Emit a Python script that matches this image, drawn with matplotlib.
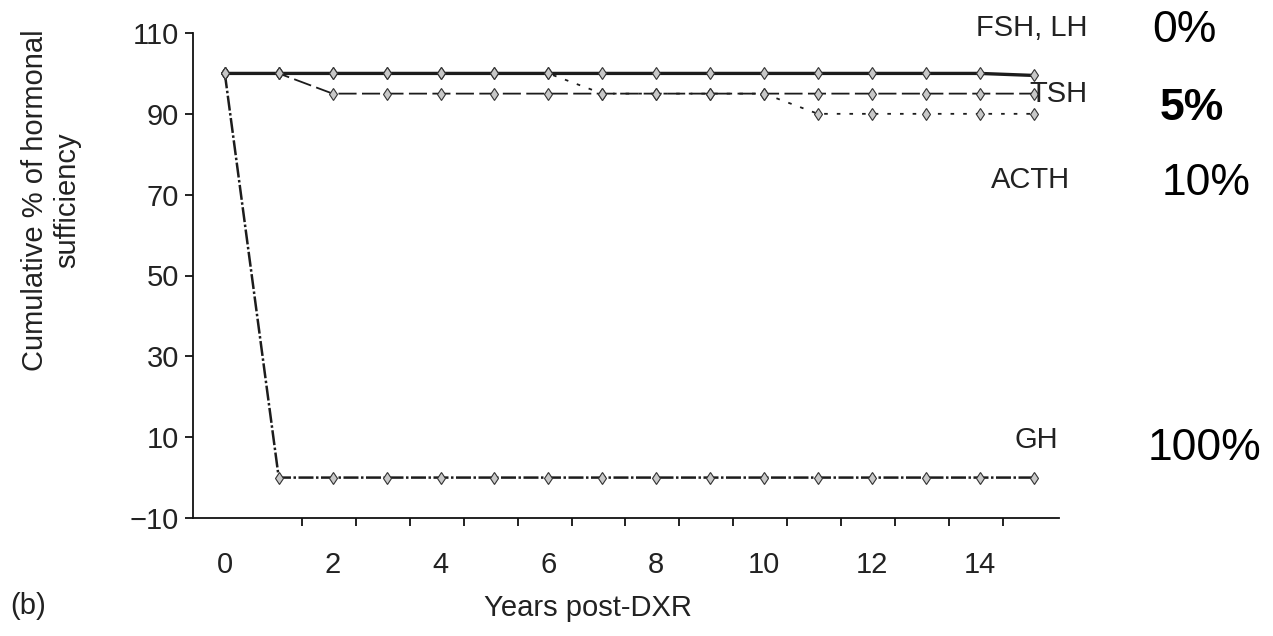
import matplotlib
matplotlib.use("Agg")
import matplotlib.pyplot as plt
from matplotlib import font_manager

# ---------------- data ----------------
years = [0, 1, 2, 3, 4, 5, 6, 7, 8, 9, 10, 11, 12, 13, 14, 15]
fsh_lh = [100, 100, 100, 100, 100, 100, 100, 100, 100, 100, 100, 100, 100, 100, 100, 99.5]
tsh = [100, 100, 95, 95, 95, 95, 95, 95, 95, 95, 95, 95, 95, 95, 95, 95]
acth = [100, 100, 100, 100, 100, 100, 100, 95, 95, 95, 95, 90, 90, 90, 90, 90]
gh = [100, 0, 0, 0, 0, 0, 0, 0, 0, 0, 0, 0, 0, 0, 0, 0]

x_ticks = [0, 2, 4, 6, 8, 10, 12, 14]
y_ticks = [-10, 10, 30, 50, 70, 90, 110]

series_labels = ["FSH, LH", "TSH", "ACTH", "GH"]
pct_labels = ["0%", "5%", "10%", "100%"]

# ---------------- fonts ----------------
names = {f.name for f in font_manager.fontManager.ttflist}
narrow = "Liberation Sans Narrow" in names
chart_font = "Liberation Sans Narrow" if narrow else "Liberation Sans"
plt.rcParams["font.family"] = [chart_font, "DejaVu Sans"]
TXT = "#222222"
FS = 25 if narrow else 21

W, H = 1273, 636
fig = plt.figure(figsize=(W / 100, H / 100), dpi=100)
ax = fig.add_axes([193 / W, (H - 518) / H, (1059 - 193) / W, (518 - 33) / H])

line_c = "#1c1c1c"
mk = dict(marker="d", markersize=6, markerfacecolor="#c8c8c8", markeredgecolor="#333333", markeredgewidth=0.8)

ax.plot(years, gh, color=line_c, lw=1.8, linestyle=(0, (6, 1, 1, 1)), zorder=3, **mk)
ax.plot(years, tsh, color=line_c, lw=1.3, linestyle=(0, (10, 3)), zorder=3, **mk)
ax.plot(years, acth, color=line_c, lw=1.3, linestyle=(0, (2, 5)), zorder=3, **mk)
ax.plot(years, fsh_lh, color=line_c, lw=2.4, linestyle="-", zorder=4, **mk)

ax.set_xlim(-0.59, 15.47)
ax.set_ylim(-10, 110)

for s in ["top", "right"]:
    ax.spines[s].set_visible(False)
for s in ["left", "bottom"]:
    ax.spines[s].set_color("#111111")
    ax.spines[s].set_linewidth(1.3)

ax.set_yticks(y_ticks)
ax.set_yticklabels([f"{v}".replace("-", "\u2212") for v in y_ticks])
ax.tick_params(axis="y", direction="out", length=6, width=1.3, pad=4,
               labelsize=FS, labelcolor=TXT, color="#111111")

ax.set_xticks(x_ticks)
ax.set_xticklabels([str(v) for v in x_ticks])
ax.tick_params(axis="x", which="major", length=0, pad=24, labelsize=FS, labelcolor=TXT)
ax.set_xticks([k + 1.43 for k in range(14)], minor=True)
ax.tick_params(axis="x", which="minor", direction="out", length=6, width=1.3, color="#111111")

def ftext(px, py, s, **kw):
    fig.text(px / W, 1 - py / H, s, **kw)

lab_kw = dict(fontsize=FS, color=TXT, va="center")
ftext(1087, 28, series_labels[0], ha="right", **lab_kw)
ftext(1087, 94, series_labels[1], ha="right", **lab_kw)
ftext(1070, 180, series_labels[2], ha="right", **lab_kw)
ftext(1058, 440, series_labels[3], ha="right", **lab_kw)

pct_kw = dict(fontsize=32, color="black", va="center", ha="left", family=["Liberation Sans", "DejaVu Sans"])
ftext(1152, 31, pct_labels[0], **pct_kw)
ftext(1160, 108, pct_labels[1], fontweight="bold", **pct_kw)
ftext(1162, 184, pct_labels[2], **pct_kw)
ftext(1148, 449, pct_labels[3], **pct_kw)

ftext(51, 200, "Cumulative % of hormonal\nsufficiency", rotation=90, ha="center", va="center",
      multialignment="center", fontsize=FS, color=TXT, linespacing=1.2)
ftext(588, 608, "Years post-DXR", ha="center", va="center", fontsize=FS, color=TXT)
ftext(28, 606, "(b)", ha="center", va="center", fontsize=FS, color=TXT)

fig.savefig("out.png", dpi=100, facecolor="white")
